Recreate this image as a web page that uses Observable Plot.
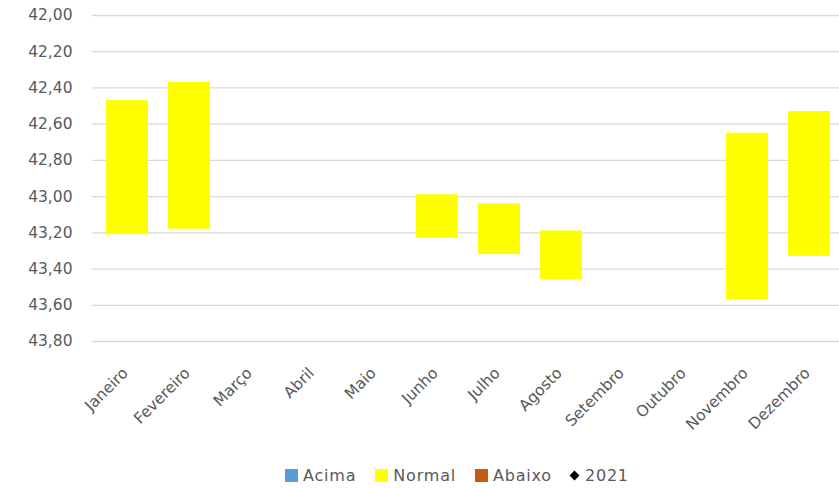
<!DOCTYPE html>
<html>
<head>
<meta charset="utf-8">
<script src="https://cdn.jsdelivr.net/npm/d3@7"></script>
<script src="https://cdn.jsdelivr.net/npm/@observablehq/plot@0.6"></script>
<style>
  body { margin: 0; background: #fff; font-family: "DejaVu Sans", sans-serif; position: relative; width: 839px; height: 488px; overflow: hidden; }
  #legend { position: absolute; left: 285px; top: 463px; height: 24px; display: flex; align-items: center;
            font-size: 16px; color: #595959; letter-spacing: 0.8px; }
  .item { display: flex; align-items: center; margin-right: 19px; }
  .sw { width: 13px; height: 13px; margin-right: 5px; display: inline-block; }
</style>
</head>
<body>
<div id="chart"></div>
<div id="legend"></div>
<script>
const months = ["Janeiro","Fevereiro","Março","Abril","Maio","Junho","Julho","Agosto","Setembro","Outubro","Novembro","Dezembro"];
// Normal range per month (top and bottom of yellow bar); null = no bar
const normalTop    = [42.47, 42.37, null, null, null, 42.99, 43.04, 43.19, null, null, 42.65, 42.53];
const normalBottom = [43.21, 43.18, null, null, null, 43.23, 43.32, 43.46, null, null, 43.57, 43.33];
const yTicks = [42.0, 42.2, 42.4, 42.6, 42.8, 43.0, 43.2, 43.4, 43.6, 43.8];
const seriesNames = ["Acima", "Normal", "Abaixo", "2021"];
const seriesColors = ["#5B9BD5", "#FFFF00", "#C55A11", "#000000"];

const bars = months.map((m, i) => ({month: m, top: normalTop[i], bottom: normalBottom[i]}))
  .filter(d => d.top != null);

const fmt = v => v.toFixed(2).replace(".", ",");

const chart = Plot.plot({
  width: 839,
  height: 452,
  marginLeft: 92,
  marginRight: 0,
  marginTop: 15,
  marginBottom: 111,
  style: {fontFamily: "DejaVu Sans, sans-serif", fontSize: "15.5px", color: "#595959", background: "#fff", overflow: "visible"},
  x: {domain: months, range: [90, 845], paddingInner: 0.33, paddingOuter: 0.165, label: null},
  y: {domain: [42, 43.8], reverse: true, label: null},
  marks: [
    Plot.ruleY(yTicks, {stroke: "#d9d9d9", strokeWidth: 1.3}),
    Plot.barY(bars, {x: "month", y1: "top", y2: "bottom", fill: seriesColors[1]}),
    Plot.axisY(yTicks, {tickSize: 0, tickPadding: 20, tickFormat: fmt, fill: "#595959", fontSize: 15.5, style: "letter-spacing:1.3px"}),
    Plot.axisX({tickSize: 0, tickRotate: -45, tickPadding: 0, dx: -2, dy: 29, fill: "#595959", fontSize: 15.5, style: "letter-spacing:0.8px"})
  ]
});
document.getElementById("chart").appendChild(chart);

const legend = document.getElementById("legend");
seriesNames.forEach((name, i) => {
  const item = document.createElement("div");
  item.className = "item";
  const sw = document.createElement("span");
  if (name === "2021") {
    sw.style.cssText = "width:7px;height:7px;background:#000;transform:rotate(45deg);margin-right:7px;display:inline-block;";
  } else {
    sw.className = "sw";
    sw.style.background = seriesColors[i];
  }
  item.appendChild(sw);
  const t = document.createElement("span");
  t.textContent = name;
  item.appendChild(t);
  legend.appendChild(item);
});
</script>
</body>
</html>
